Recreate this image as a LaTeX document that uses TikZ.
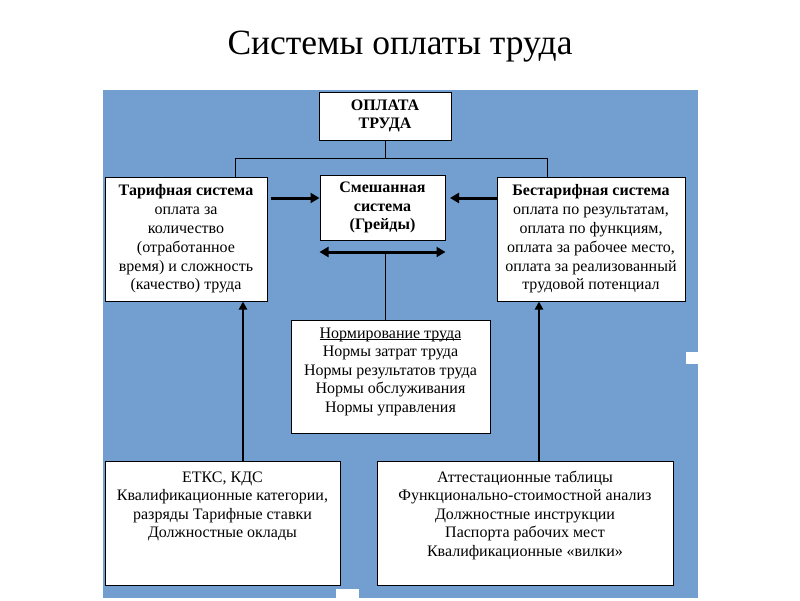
\documentclass[tikz,border=0pt]{standalone}
\usepackage{fontspec}
\setmainfont{Liberation Serif}
\usetikzlibrary{arrows.meta}
\definecolor{bgblue}{RGB}{114,159,207}
\newcommand{\myul}[1]{\setbox0\hbox{#1}\rlap{\rule[-1.6pt]{\wd0}{0.7pt}}\box0}
\begin{document}
\begin{tikzpicture}[x=1pt,y=-1pt,
  box/.style={draw=black, line width=1pt, fill=white, inner sep=0pt, align=center, font=\fontsize{16}{18.8}\selectfont},
  txt/.style={inner sep=0pt, align=center, font=\fontsize{16}{18.5}\selectfont},
  conn/.style={draw=black, line width=1pt},
  fat/.style={line width=3pt, -{Triangle[length=9pt,width=10pt]}},
  fatboth/.style={line width=3pt, {Triangle[length=9pt,width=10pt]}-{Triangle[length=9pt,width=10pt]}},
  uparrow/.style={line width=2pt, -{Triangle[length=8pt,width=8pt]}},
  ]
\useasboundingbox (0,0) rectangle (800,600);
\fill[white] (0,0) rectangle (800,600);
\node[font=\fontsize{35.5}{40}\selectfont] (title) at (400,47) {Системы оплаты труда};
\fill[bgblue] (103,90) rectangle (698,598);
\fill[white] (686,352) rectangle (698,364);
\fill[white] (336,589) rectangle (359,598);

\node[box, minimum width=132pt, minimum height=48pt] (top) at (385,116) {\textbf{ОПЛАТА}\\\textbf{ТРУДА}};
\node[box, minimum width=162pt, minimum height=124pt] (left) at (186,239)
  {\textbf{Тарифная система}\\оплата за\\количество\\(отработанное\\время) и сложность\\(качество) труда};
\node[box, minimum width=125pt, minimum height=65pt] (mid) at (382.5,207.5)
  {\textbf{Смешанная}\\\textbf{система}\\\textbf{(Грейды)}};
\node[box, minimum width=188pt, minimum height=124pt] (right) at (591,239)
  {\textbf{Бестарифная система}\\оплата по результатам,\\оплата по функциям,\\оплата за рабочее место,\\оплата за реализованный\\трудовой потенциал};
\node[box, minimum width=199pt, minimum height=113pt] (norm) at (390.5,376.5) {};
\node[txt, anchor=north] (normt) at ([yshift=-8pt]norm.north)
  {\myul{Нормирование труда}\\Нормы затрат труда\\Нормы результатов труда\\Нормы обслуживания\\Нормы управления};
\node[box, minimum width=235pt, minimum height=124pt] (bl) at (222.5,523) {};
\node[txt, anchor=north] (blt) at ([yshift=-11pt]bl.north)
  {ЕТКС, КДС\\Квалификационные категории,\\разряды Тарифные ставки\\Должностные оклады};
\node[box, minimum width=296pt, minimum height=124pt] (br) at (525,523) {};
\node[txt, anchor=north] (brt) at ([yshift=-10pt]br.north)
  {Аттестационные таблицы\\Функционально-стоимостной анализ\\Должностные инструкции\\Паспорта рабочих мест\\Квалификационные «вилки»};

% tree from top box
\coordinate (j) at (385,158);
\coordinate (jl) at (235,158);
\coordinate (jr) at (547,158);
\draw[conn] (top.south) -- (j);
\draw[conn] (jl) -- (jr);
\draw[conn] (jl) -- (jl |- left.north);
\draw[conn] (jr) -- (jr |- right.north);

% fat arrows to mixed system
\coordinate (la) at (271,198);
\coordinate (ra) at (450,198);
\draw[fat] (la) -- (la -| mid.west);
\draw[fat] (right.west |- la) -- (ra);
\coordinate (da) at (385,252);
\draw[fatboth] (mid.west |- da) -- (mid.east |- da);
\draw[conn] (da) -- (da |- norm.north);

% up arrows
\coordinate (ul) at (243,461);
\coordinate (ur) at (539,461);
\draw[uparrow] (ul) -- (ul |- left.south);
\draw[uparrow] (ur) -- (ur |- right.south);
\end{tikzpicture}
\end{document}
